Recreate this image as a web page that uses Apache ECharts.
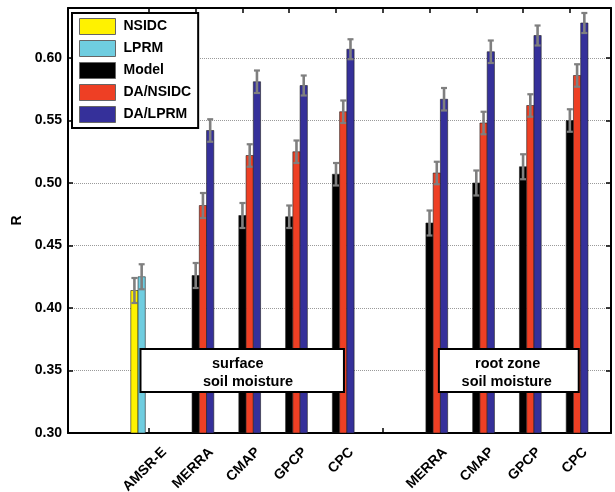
<!DOCTYPE html>
<html>
<head>
<meta charset="utf-8">
<script src="https://cdn.jsdelivr.net/npm/echarts@6/dist/echarts.min.js"></script>
<style>
html,body{margin:0;padding:0;background:#fff;}
#chart{width:615px;height:492px;}
</style>
</head>
<body>
<div id="chart"></div>
<script>
// ---- data ----
const categories = ['AMSR-E', 'MERRA', 'CMAP', 'GPCP', 'CPC', '', 'MERRA', 'CMAP', 'GPCP', 'CPC'];
const positions = [1, 2, 3, 4, 5, 6, 7, 8, 9, 10];
const seriesNames = ['NSIDC', 'LPRM', 'Model', 'DA/NSIDC', 'DA/LPRM'];
const nsidc    = [0.414, null, null, null, null, null, null, null, null, null];
const lprm     = [0.425, null, null, null, null, null, null, null, null, null];
const model    = [null, 0.426, 0.474, 0.473, 0.507, null, 0.468, 0.500, 0.513, 0.550];
const daNsidc  = [null, 0.482, 0.522, 0.525, 0.557, null, 0.508, 0.548, 0.562, 0.586];
const daLprm   = [null, 0.542, 0.581, 0.578, 0.607, null, 0.567, 0.605, 0.618, 0.628];
const nsidcErr   = [0.010, null, null, null, null, null, null, null, null, null];
const lprmErr    = [0.010, null, null, null, null, null, null, null, null, null];
const modelErr   = [null, 0.010, 0.010, 0.009, 0.009, null, 0.010, 0.010, 0.010, 0.009];
const daNsidcErr = [null, 0.010, 0.009, 0.009, 0.009, null, 0.009, 0.009, 0.009, 0.009];
const daLprmErr  = [null, 0.009, 0.009, 0.008, 0.008, null, 0.009, 0.009, 0.008, 0.008];
const yTickLabels = ['0.30', '0.35', '0.40', '0.45', '0.50', '0.55', '0.60'];
const annotations = [
  { lines: ['surface', 'soil moisture'], box: [0.82, 5.17, 0.3328, 0.3672], textPos: [[2.90, 0.3555], [3.12, 0.3405]] },
  { lines: ['root zone', 'soil moisture'], box: [7.20, 10.19, 0.3328, 0.3672], textPos: [[8.67, 0.3555], [8.65, 0.3405]] }
];

// ---- styling ----
const FONT = "'Liberation Sans', Arial, Helvetica, sans-serif";
const colors = ['#fff200', '#6fcde0', '#000000', '#ee3f24', '#35309a'];
const YMIN = 0.30, YMAX = 0.64, XMIN = -0.73, XMAX = 10.88;
const BW = 0.155;
const offsets = [-2, -1, 0, 1, 2].map(k => k * BW);
const LABEL_SHIFT = 0.33;

const values = [nsidc, lprm, model, daNsidc, daLprm];
const errs = [nsidcErr, lprmErr, modelErr, daNsidcErr, daLprmErr];

function makeRender(si) {
  return function (params, api) {
    const x = api.value(0) + offsets[si];
    const v = api.value(1);
    const e = api.value(2);
    const pTL = api.coord([x - BW / 2, v]);
    const pBR = api.coord([x + BW / 2, YMIN]);
    const pc = api.coord([x, v]);
    const pHi = api.coord([x, v + e]);
    const pLo = api.coord([x, v - e]);
    const cap = 3;
    return {
      type: 'group',
      children: [
        { type: 'rect', shape: { x: pTL[0], y: pTL[1], width: pBR[0] - pTL[0], height: pBR[1] - pTL[1] },
          style: { fill: colors[si], stroke: '#222', lineWidth: 0.6 } },
        { type: 'line', shape: { x1: pc[0], y1: pHi[1], x2: pc[0], y2: pLo[1] }, style: { stroke: '#7f7f7f', lineWidth: 2.6 } },
        { type: 'line', shape: { x1: pc[0] - cap, y1: pHi[1], x2: pc[0] + cap, y2: pHi[1] }, style: { stroke: '#7f7f7f', lineWidth: 2.2 } },
        { type: 'line', shape: { x1: pc[0] - cap, y1: pLo[1], x2: pc[0] + cap, y2: pLo[1] }, style: { stroke: '#7f7f7f', lineWidth: 2.2 } }
      ]
    };
  };
}

const series = seriesNames.map((name, si) => ({
  type: 'custom',
  name: name,
  renderItem: makeRender(si),
  itemStyle: { color: colors[si] },
  encode: { x: 0, y: 1 },
  clip: true,
  z: 3,
  data: positions.map((p, i) => values[si][i] == null ? null : [p, values[si][i], errs[si][i]]).filter(d => d)
}));

const labelValues = positions.filter((p, i) => categories[i] !== '').map(p => p + LABEL_SHIFT);
function labelFor(v) {
  const idx = Math.round(v - LABEL_SHIFT) - 1;
  return categories[idx] || '';
}

const axisLineStyle = { color: '#000', width: 2 };
const option = {
  backgroundColor: '#fff',
  animation: false,
  grid: { left: 68, right: 4, top: 8, bottom: 59, containLabel: false, outerBoundsMode: 'none' },
  legend: {
    data: seriesNames,
    orient: 'vertical',
    left: 72, top: 13,
    padding: [5, 7, 5, 7],
    itemWidth: 36, itemHeight: 16, itemGap: 5,
    icon: 'rect',
    backgroundColor: '#fff',
    borderColor: '#000', borderWidth: 2,
    itemStyle: { borderColor: '#666', borderWidth: 1 },
    textStyle: { fontFamily: FONT, fontWeight: 'bold', fontSize: 14, color: '#000', padding: [0, 0, 0, 3] },
    z: 10
  },
  xAxis: [
    {
      type: 'value', position: 'bottom', min: XMIN, max: XMAX,
      axisLine: { show: true, onZero: false, lineStyle: axisLineStyle },
      axisTick: { show: true, inside: true, length: 5, lineStyle: { color: '#000', width: 1.5 }, customValues: positions },
      axisLabel: {
        show: true, rotate: 45, margin: 17, customValues: labelValues,
        formatter: labelFor,
        fontFamily: FONT, fontWeight: 'bold', fontSize: 14, color: '#000'
      },
      splitLine: { show: false }
    },
    {
      type: 'value', position: 'top', min: XMIN, max: XMAX,
      axisLine: { show: true, onZero: false, lineStyle: axisLineStyle },
      axisTick: { show: true, inside: true, length: 5, lineStyle: { color: '#000', width: 1.5 }, customValues: positions },
      axisLabel: { show: false },
      splitLine: { show: false }
    }
  ],
  yAxis: [
    {
      type: 'value', position: 'left', min: YMIN, max: YMAX, interval: 0.05,
      name: 'R', nameLocation: 'middle', nameGap: 43,
      nameTextStyle: { fontFamily: FONT, fontWeight: 'bold', fontSize: 14, color: '#000' },
      axisLine: { show: true, onZero: false, lineStyle: axisLineStyle },
      axisTick: { show: true, inside: true, length: 5, lineStyle: { color: '#000', width: 1.5 } },
      axisLabel: {
        show: true, margin: 6, showMaxLabel: false,
        formatter: v => { const s = v.toFixed(2); return yTickLabels.indexOf(s) >= 0 ? s : ''; },
        fontFamily: FONT, fontWeight: 'bold', fontSize: 14, color: '#000'
      },
      splitLine: { show: true, lineStyle: { color: '#9a9a9a', type: [1, 1], width: 1 } }
    },
    {
      type: 'value', position: 'right', min: YMIN, max: YMAX, interval: 0.05,
      axisLine: { show: true, onZero: false, lineStyle: axisLineStyle },
      axisTick: { show: true, inside: true, length: 5, lineStyle: { color: '#000', width: 1.5 } },
      axisLabel: { show: false },
      splitLine: { show: false }
    }
  ],
  series: series
};

const chart = echarts.init(document.getElementById('chart'), null, { renderer: 'canvas' });
chart.setOption(option);

// annotation boxes placed in data coordinates
const graphics = [];
annotations.forEach(a => {
  const p0 = chart.convertToPixel({ xAxisIndex: 0, yAxisIndex: 0 }, [a.box[0], a.box[3]]);
  const p1 = chart.convertToPixel({ xAxisIndex: 0, yAxisIndex: 0 }, [a.box[1], a.box[2]]);
  graphics.push({
    type: 'rect', z: 20,
    shape: { x: p0[0], y: p0[1], width: p1[0] - p0[0], height: p1[1] - p0[1] },
    style: { fill: '#fff', stroke: '#000', lineWidth: 2 }
  });
  a.lines.forEach((t, k) => {
    const tp = chart.convertToPixel({ xAxisIndex: 0, yAxisIndex: 0 }, a.textPos[k]);
    graphics.push({
      type: 'text', z: 21, x: tp[0], y: tp[1],
      style: { text: t, fill: '#000', font: 'bold 14.5px ' + FONT, textAlign: 'center', textVerticalAlign: 'middle' }
    });
  });
});
chart.setOption({ graphic: graphics });
</script>
</body>
</html>
